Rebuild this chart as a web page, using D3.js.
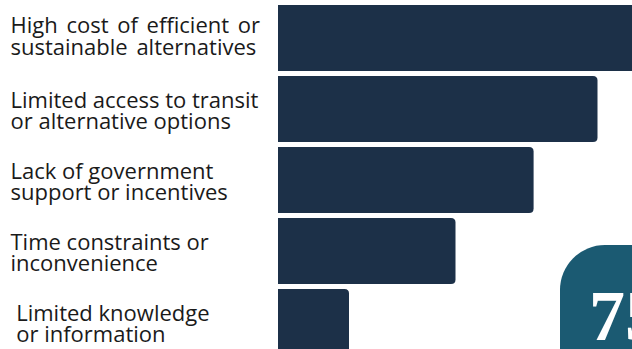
<!DOCTYPE html>
<html>
<head>
<meta charset="utf-8">
<script src="https://cdn.jsdelivr.net/npm/d3@7/dist/d3.min.js"></script>
<style>
  html, body { margin: 0; padding: 0; background: #ffffff; overflow: hidden; }
  svg { display: block; }
  .label { font-family: "Open Sans", sans-serif; font-size: 22px; fill: #1a1a1a; white-space: pre; }
  .badge-text { font-family: "Liberation Serif", "DejaVu Serif", serif; font-weight: 700; font-size: 72px; fill: #ffffff; }
</style>
</head>
<body>
<div id="chart"></div>
<script>
// Barriers to adopting efficient or sustainable options (share of respondents)
const categories = [
  "High cost of efficient or\nsustainable alternatives",
  "Limited access to transit\nor alternative options",
  "Lack of government\nsupport or incentives",
  "Time constraints or\ninconvenience",
  " Limited knowledge\n or information"
];
const values = [56, 45, 36, 25, 10];
const highlightValue = "75%";

const width = 632, height = 349;
const barColor = "#1c3048";
const badgeColor = "#1b5a72";

const svg = d3.select("#chart").append("svg")
  .attr("width", width)
  .attr("height", height);

const x = d3.scaleLinear().domain([0, 50]).range([278, 633]);
const y = d3.scaleBand()
  .domain(categories)
  .range([5, 355])
  .paddingInner(5 / 71)
  .paddingOuter(0);

// bar with square left end and rounded right corners
function barPath(x0, x1, y0, h, r) {
  const rr = Math.min(r, (x1 - x0) / 2, h / 2);
  return `M${x0},${y0}H${x1 - rr}Q${x1},${y0} ${x1},${y0 + rr}` +
         `V${y0 + h - rr}Q${x1},${y0 + h} ${x1 - rr},${y0 + h}H${x0}Z`;
}

const data = categories.map((c, i) => ({ category: c, value: values[i] }));

svg.append("g").selectAll("path")
  .data(data)
  .join("path")
  .attr("d", d => barPath(x(0), x(d.value), y(d.category), y.bandwidth(), 4.5))
  .attr("fill", barColor);

// two-line category labels; the top one sits a little higher with looser spacing
const labelX = 10.5;
const labels = svg.append("g").selectAll("text")
  .data(data)
  .join("text")
  .attr("class", "label")
  .attr("x", labelX)
  .attr("y", (d, i) => y(d.category) + y.bandwidth() / 2 + (i === 0 ? -5.5 : -1.2))
  .style("word-spacing", (d, i) => i === 0 ? "3px" : null);

labels.each(function(d, i) {
  const gap = i === 0 ? 22.7 : 20.8;
  d3.select(this).selectAll("tspan")
    .data(d.category.split("\n"))
    .join("tspan")
    .attr("x", labelX)
    .attr("dy", (t, j) => j === 0 ? 0 : gap)
    .text(t => t);
});

// highlight badge in the lower right corner
const badge = svg.append("g");
badge.append("rect")
  .attr("x", 560)
  .attr("y", 245)
  .attr("width", 160)
  .attr("height", 160)
  .attr("rx", 45)
  .attr("fill", badgeColor);
badge.append("text")
  .attr("class", "badge-text")
  .attr("x", 589)
  .attr("y", 340)
  .text(highlightValue);
</script>
</body>
</html>
